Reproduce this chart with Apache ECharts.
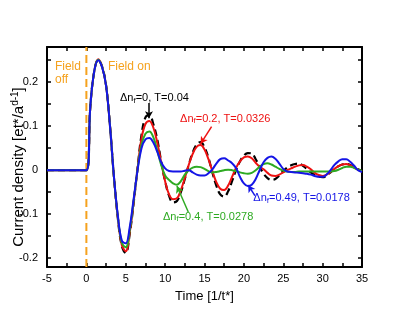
<!DOCTYPE html>
<html><head><meta charset="utf-8">
<script src="https://cdn.jsdelivr.net/npm/echarts@6/dist/echarts.min.js"></script>
<style>html,body{margin:0;padding:0;background:#fff}#c{width:407px;height:315px}</style>
</head><body><div id="c"></div>
<script>
const times = [0,0.5,1,1.5,2,2.5,3,3.5,4,4.5,5,5.5,6,6.5,7,7.5,8,8.5,9,9.5,10,10.5,11,11.5,12,12.5,13,13.5,14,14.5,15,15.5,16,16.5,17,17.5,18,18.5,19,19.5,20,20.5,21,21.5,22,22.5,23,23.5,24,24.5,25,25.5,26,26.5,27,27.5,28,28.5,29,29.5,30,30.5,31,31.5,32,32.5,33,33.5,34,34.5,35];
const preTimes = [-5];
const preValues = [0];
const black = [0,0.145,0.225,0.251,0.235,0.193,0.100,-0.015,-0.110,-0.172,-0.188,-0.145,-0.075,0.005,0.080,0.120,0.125,0.105,0.070,0.020,-0.025,-0.058,-0.073,-0.070,-0.050,-0.020,0.012,0.040,0.058,0.064,0.052,0.028,-0.005,-0.035,-0.055,-0.060,-0.048,-0.025,0.000,0.020,0.033,0.039,0.038,0.025,0.008,-0.008,-0.018,-0.022,-0.020,-0.012,-0.002,0.006,0.011,0.014,0.015,0.010,0.003,-0.005,-0.011,-0.015,-0.016,-0.012,-0.005,0.003,0.009,0.013,0.014,0.012,0.007,0.002,-0.002];
const red = [0,0.145,0.225,0.252,0.235,0.193,0.100,-0.015,-0.108,-0.170,-0.184,-0.142,-0.073,0.004,0.072,0.105,0.112,0.097,0.063,0.018,-0.025,-0.055,-0.066,-0.064,-0.045,-0.018,0.012,0.037,0.053,0.057,0.047,0.025,-0.002,-0.027,-0.042,-0.045,-0.035,-0.015,0.005,0.020,0.029,0.031,0.027,0.017,0.008,0.002,-0.006,-0.012,-0.013,-0.010,-0.005,0.000,0.004,0.008,0.011,0.012,0.008,0.002,-0.006,-0.011,-0.013,-0.010,-0.004,0.003,0.009,0.013,0.014,0.011,0.006,0.001,-0.003];
const green = [0,0.145,0.225,0.251,0.235,0.193,0.100,-0.015,-0.106,-0.165,-0.175,-0.137,-0.070,0.002,0.058,0.083,0.088,0.075,0.045,0.012,-0.012,-0.022,-0.030,-0.033,-0.025,-0.010,0.000,0.006,0.008,0.007,0.003,-0.002,-0.005,-0.004,-0.002,0.000,0.001,0.000,-0.002,-0.005,-0.007,-0.008,-0.006,0.000,0.008,0.014,0.016,0.013,0.008,0.003,-0.001,-0.003,-0.004,-0.004,-0.003,-0.003,-0.003,-0.003,-0.003,-0.003,-0.003,-0.003,-0.003,-0.002,0.001,0.005,0.008,0.008,0.005,0.001,-0.002];
const blue = [0,0.145,0.225,0.250,0.234,0.192,0.100,-0.014,-0.104,-0.160,-0.166,-0.130,-0.066,0.000,0.050,0.070,0.073,0.063,0.042,0.018,0.004,-0.002,-0.003,-0.003,-0.003,-0.001,0.000,-0.005,-0.010,-0.012,-0.012,-0.007,0.002,0.015,0.025,0.027,0.022,0.016,0.005,-0.015,-0.030,-0.036,-0.033,-0.020,0.000,0.018,0.028,0.031,0.026,0.015,0.003,-0.003,-0.004,-0.005,-0.006,-0.007,-0.008,-0.010,-0.013,-0.015,-0.015,-0.010,0.000,0.012,0.020,0.025,0.025,0.019,0.010,0.000,-0.004];
const xTicks = [-5,-2.5,0,2.5,5,7.5,10,12.5,15,17.5,20,22.5,25,27.5,30,32.5,35];
const xLabels = [-5,0,5,10,15,20,25,30,35];
const yTicks = [-0.2,-0.15,-0.1,-0.05,0,0.05,0.1,0.15,0.2,0.25];
const yLabels = [-0.2,-0.1,0,0.1,0.2];
const fieldLine = [[0,-0.22],[0,0.28]];

const ORANGE = '#F5A21E', RED = '#EE1111', GREEN = '#2EAA22', BLUE = '#1515E6';
const FONT = 'Liberation Sans, Arial';
function mk(vals){ const d = preTimes.map((t,i)=>[t,preValues[i]]); times.forEach((t,i)=>d.push([t,vals[i]])); return d; }

const chart = echarts.init(document.getElementById('c'));
const axisBase = {
  type:'value', min:-5, max:35,
  axisLine:{show:true, onZero:false, lineStyle:{color:'#000', width:2}},
  axisTick:{show:true, inside:true, length:4, lineStyle:{color:'#000', width:1.5}, customValues:xTicks},
  splitLine:{show:false}
};
const yBase = {
  type:'value', min:-0.22, max:0.28,
  axisLine:{show:true, onZero:false, lineStyle:{color:'#000', width:2}},
  axisTick:{show:true, inside:true, length:4, lineStyle:{color:'#000', width:1.5}, customValues:yTicks},
  splitLine:{show:false}
};
function arrow(color, from, to){
  return {silent:true, symbol:['none','arrow'], symbolSize:[6,7], animation:false,
    lineStyle:{color:color, width:1.5, type:'solid'}, label:{show:false},
    data:[[{coord:from},{coord:to}]]};
}
chart.setOption({
  animation:false,
  grid:{left:47, right:45, top:47, bottom:48, containLabel:false, outerBoundsMode:'none'},
  xAxis:[
    Object.assign({}, axisBase, {position:'bottom',
      axisLabel:{show:true, customValues:xLabels, color:'#000', fontSize:11, fontFamily:FONT, margin:6},
      name:'Time [1/t*]', nameLocation:'middle', nameGap:23,
      nameTextStyle:{color:'#000', fontSize:13, fontFamily:FONT}}),
    Object.assign({}, axisBase, {position:'top', axisLabel:{show:false}})
  ],
  yAxis:[
    Object.assign({}, yBase, {position:'left',
      axisLabel:{show:true, customValues:yLabels, color:'#000', fontSize:11, fontFamily:FONT, margin:9,
        formatter:v=>String(Math.round(v*10)/10)}}),
    Object.assign({}, yBase, {position:'right', axisLabel:{show:false}})
  ],
  series:[
    {type:'line', data:fieldLine, symbol:'none', lineStyle:{color:ORANGE, width:2, type:[8,4]}, z:1},
    {type:'line', data:mk(black), symbol:'none', smooth:0.4, lineStyle:{color:'#000', width:2.2, type:[7,4]}, z:2,
      markLine:arrow('#000',[7.95,0.153],[7.95,0.118])},
    {type:'line', data:mk(red), symbol:'none', smooth:0.4, lineStyle:{color:RED, width:2}, z:3,
      markLine:arrow(RED,[15.9,0.099],[14.5,0.060])},
    {type:'line', data:mk(green), symbol:'none', smooth:0.4, lineStyle:{color:GREEN, width:2}, z:4,
      markLine:arrow(GREEN,[12.94,-0.095],[11.5,-0.036])},
    {type:'line', data:mk(blue), symbol:'none', smooth:0.4, lineStyle:{color:BLUE, width:2}, z:5,
      markLine:arrow(BLUE,[21.4,-0.058],[20.55,-0.034])}
  ]
});

const notes = [
  {t:'Field\noff', c:ORANGE, at:[-3.99,0.237], plain:true},
  {t:'Field on', c:ORANGE, at:[2.74,0.237], plain:true},
  {t:'0, T=0.04', c:'#000', at:[4.27,0.162]},
  {t:'0.2, T=0.0326', c:RED, at:[11.9,0.116]},
  {t:'0.4, T=0.0278', c:GREEN, at:[9.73,-0.107]},
  {t:'0.49, T=0.0178', c:BLUE, at:[21.2,-0.065]}
];
const g = notes.map(n=>{
  const p = chart.convertToPixel({xAxisIndex:0, yAxisIndex:0}, n.at);
  if (n.plain) {
    return {type:'text', x:p[0], y:p[1]-6, z:100, silent:true, style:{text:n.t, fill:n.c, fontSize:12, lineHeight:13,
      fontFamily:FONT, align:'left', verticalAlign:'top'}};
  }
  return {type:'text', x:p[0], y:p[1]-7, z:100, silent:true,
    style:{text:'{n|\u0394n}{s|f}{n|=' + n.t + '}', fill:n.c, align:'left', verticalAlign:'top',
      fontFamily:FONT,
      rich:{n:{fontSize:11, lineHeight:13, fill:n.c, fontFamily:FONT},
            s:{fontSize:8, lineHeight:4, verticalAlign:'bottom', fill:n.c, fontFamily:FONT}}}};
});
g.push({type:'text', x:19, y:167, rotation:Math.PI/2, z:100, silent:true,
  style:{text:'{n|Current density [et*/a}{p|d-1}{n|]}', align:'center', verticalAlign:'middle', fill:'#000', fontFamily:FONT,
    rich:{n:{fontSize:15, lineHeight:18, fill:'#000', fontFamily:FONT},
          p:{fontSize:10, lineHeight:6, verticalAlign:'top', fill:'#000', fontFamily:FONT}}}});
chart.setOption({graphic:g});
</script></body></html>
